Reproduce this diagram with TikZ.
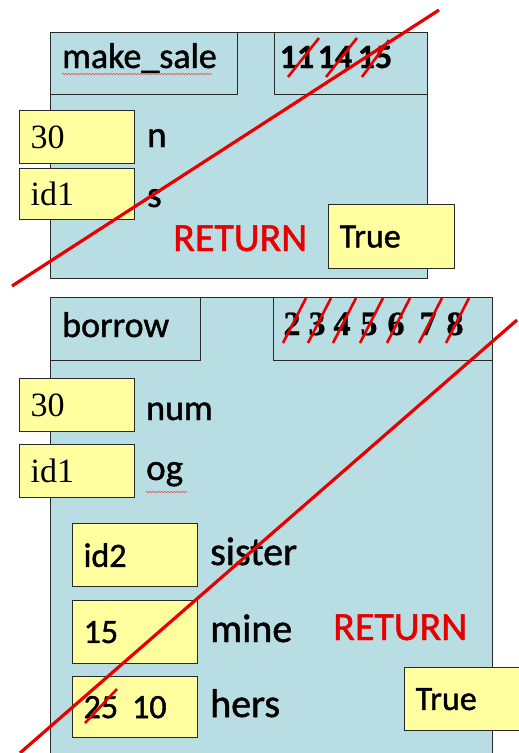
\documentclass[tikz,border=0pt]{standalone}
\usepackage{fontspec}
\setmainfont{Carlito}
\newfontfamily\lbl{Carlito}[FakeBold=1.2]
\newfontfamily\numfont{Carlito Bold}[FakeBold=0.8]
\newfontfamily\tms{Liberation Serif}
\newfontfamily\tmsb{Liberation Serif Bold}[FakeBold=0.8]
\usetikzlibrary{calc,decorations.pathmorphing}
\definecolor{frameblue}{RGB}{184,222,227}
\definecolor{valyellow}{RGB}{255,255,160}
\definecolor{strike}{RGB}{232,0,0}
\definecolor{edge}{RGB}{40,40,40}
\tikzset{
  frame/.style={draw=edge, fill=frameblue, line width=1.3pt, anchor=north west, inner sep=0pt},
  hdrbox/.style={draw=edge, fill=frameblue, line width=1.3pt, anchor=north west, inner sep=0pt},
  valbox/.style={draw=edge, fill=valyellow, line width=1.3pt, anchor=north west,
    inner xsep=11pt, inner ysep=0pt, align=left, font=\lbl\fontsize{34}{36}\selectfont},
  hdrlbl/.style={anchor=base west, inner sep=0pt, font=\lbl\fontsize{36}{38}\selectfont},
  varlbl/.style={anchor=base west, inner sep=0pt, font=\lbl\fontsize{37}{40}\selectfont},
  retlbl/.style={anchor=base west, inner sep=0pt, text=strike, font=\lbl\fontsize{40}{42}\selectfont},
  numtop/.style={anchor=base, inner sep=0pt, font=\numfont\fontsize{34}{36}\selectfont},
  numbot/.style={anchor=base, inner sep=0pt, font=\tmsb\fontsize{34}{36}\selectfont},
  bigstrike/.style={draw=strike, line width=3.2pt},
  slash/.style={draw=strike, line width=2.6pt},
  squiggle/.style={draw=strike!70, line width=0.6pt, decorate,
    decoration={snake, segment length=3pt, amplitude=0.7pt}}
}
\begin{document}
\begin{tikzpicture}[x=1pt, y=-1pt]
\useasboundingbox (0,0) rectangle (519,753);
\clip (0,0) rectangle (519,753);

% ---------------- make_sale frame ----------------
\node[frame, minimum width=377pt, minimum height=246pt] (frm1) at (50,32) {};
\node[hdrbox, minimum width=187pt, minimum height=62pt] (nm1) at (50,32) {};
\node[hdrbox, minimum width=153pt, minimum height=62pt] (ln1) at (274,32) {};
\node[hdrlbl] (nm1t) at (62,68) {make\_sale};
\draw[squiggle] (62,74) -- (212,74);

\node[numtop] (l11) at (297,68) {11};
\node[numtop] (l14) at (335,68) {14};
\node[numtop] (l15) at (375,68) {15};

\node[valbox, text width=93pt, minimum height=53pt] (v30a) at (19,110) {\tms 30};
\node[valbox, text width=93pt, minimum height=51pt] (vid1a) at (19,168) {\tms id1};
\node[varlbl] (vn) at (147,147) {n};
\node[varlbl] (vs) at (147,207) {s};

\node[retlbl] (ret1) at (173,251) {RETURN};
\node[valbox, text width=104pt, minimum height=64pt] (tr1) at (328,204) {True};

% ---------------- borrow frame ----------------
\node[frame, minimum width=442pt, minimum height=480pt] (frm2) at (50,297) {};
\node[hdrbox, minimum width=150pt, minimum height=63pt] (nm2) at (50,297) {};
\node[hdrbox, minimum width=219pt, minimum height=63pt] (ln2) at (273,297) {};
\node[hdrlbl] (nm2t) at (62,337) {borrow};

\node[numbot] (d2) at (292,335) {2};
\node[numbot] (d3) at (317,335) {3};
\node[numbot] (d4) at (342,335) {4};
\node[numbot] (d5) at (369,335) {5};
\node[numbot] (d6) at (396,335) {6};
\node[numbot] (d7) at (428,335) {7};
\node[numbot] (d8) at (455,335) {8};

\node[valbox, text width=93pt, minimum height=53pt] (v30b) at (19,378) {\tms 30};
\node[valbox, text width=93pt, minimum height=53pt] (vid1b) at (19,444) {\tms id1};
\node[varlbl, font=\lbl\fontsize{36}{38}\selectfont] (vnum) at (146,420) {num};
\node[varlbl] (vog) at (146,480) {og};
\draw[squiggle] (146,492) -- (187,492);

\node[valbox, text width=103pt, minimum height=63pt] (vid2) at (72,523) {id2};
\node[valbox, text width=103pt, minimum height=63pt] (v15) at (72,600) {15};
\node[valbox, text width=103pt, minimum height=61pt] (v25) at (72,676) {25\hspace{14pt}10};
\node[varlbl, font=\lbl\fontsize{40}{42}\selectfont] (vsis) at (210,565) {sister};
\node[varlbl, font=\lbl\fontsize{40}{42}\selectfont] (vmine) at (210,642) {mine};
\node[varlbl, font=\lbl\fontsize{40}{42}\selectfont] (vhers) at (210,717) {hers};

\node[retlbl] (ret2) at (333,640) {RETURN};
\node[valbox, text width=104pt, minimum height=63pt] (tr2) at (404,667) {True};

% ---------------- strike-throughs ----------------
\foreach \n in {l11,l14} {
  \draw[slash] ($(\n.base)+(-9,9)$) -- ($(\n.base)+(22,-30)$);
}
\draw[slash] ($(l15.base)+(-13,9)$) -- ($(l15.base)+(14,-28)$);
\foreach \n in {d2,d3,d4,d5,d6,d7,d8} {
  \draw[slash] ($(\n.base)+(-9,8)$) -- ($(\n.base)+(14,-37)$);
}
\coordinate (s25a) at (85,723);
\coordinate (s25b) at (117,689);
\draw[slash] (s25a) -- (s25b);

\coordinate (x1a) at (12,286);
\coordinate (x1b) at (439,10);
\draw[bigstrike] (x1a) -- (x1b);
\coordinate (x2a) at (20,753);
\coordinate (x2b) at (517,320);
\draw[bigstrike] (x2a) -- (x2b);
\end{tikzpicture}
\end{document}
